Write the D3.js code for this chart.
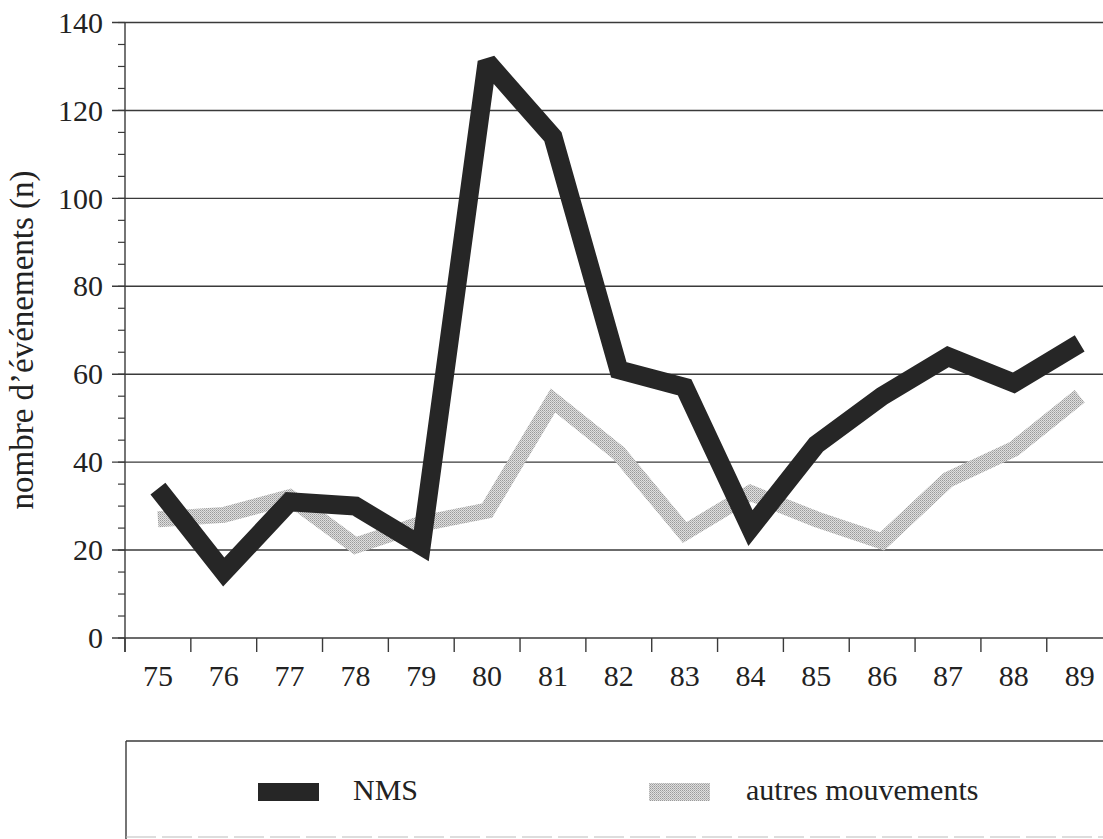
<!DOCTYPE html>
<html>
<head>
<meta charset="utf-8">
<script src="https://cdn.jsdelivr.net/npm/d3@7"></script>
<style>
  body { margin: 0; background: #fff; }
  svg { display: block; font-family: "Liberation Serif", "Times New Roman", serif; }
</style>
</head>
<body>
<div id="chart"></div>
<script>
// data
const years = ["75","76","77","78","79","80","81","82","83","84","85","86","87","88","89"];
const nms = [34, 15, 31, 30, 21, 131, 114, 61, 57, 25, 44, 55, 64, 58, 67];
const autres = [27, 28, 32, 21, 26, 29, 54, 42, 24, 33, 27, 22, 36, 43, 55];
const yTicks = [0, 20, 40, 60, 80, 100, 120, 140];
const yMinor = d3.range(0, 141, 5);
const seriesNames = ["NMS", "autres mouvements"];

const width = 1103, height = 839;
const left = 125, bandW = 65.84;

let svg = d3.select("#chart").append("svg")
    .attr("width", width).attr("height", height);

let defs = svg.append("defs");
let pat = defs.append("pattern").attr("id", "stipple")
    .attr("patternUnits", "userSpaceOnUse").attr("width", 2).attr("height", 2);
pat.append("rect").attr("width", 2).attr("height", 2).attr("fill", "#dedede");
pat.append("rect").attr("width", 1).attr("height", 1).attr("fill", "#9a9a9a");
pat.append("rect").attr("x", 1).attr("y", 1).attr("width", 1).attr("height", 1).attr("fill", "#b4b4b4");

let x = d3.scaleBand().domain(years).range([left, left + bandW * years.length]).padding(0);
let y = d3.scaleLinear().domain([0, 140]).range([638, 22.5]);
let cx = d => x(d) + x.bandwidth() / 2;

// gridlines (including the zero line)
svg.append("g").selectAll("line").data(yTicks).enter().append("line")
    .attr("x1", 112).attr("x2", width)
    .attr("y1", d => y(d)).attr("y2", d => y(d))
    .attr("stroke", "#3a3a3a").attr("stroke-width", 1.4);

// minor ticks
svg.append("g").selectAll("line").data(yMinor).enter().append("line")
    .attr("x1", 118).attr("x2", left)
    .attr("y1", d => y(d)).attr("y2", d => y(d))
    .attr("stroke", "#3a3a3a").attr("stroke-width", 1.2);

// y axis line
svg.append("line").attr("x1", left).attr("x2", left)
    .attr("y1", y(140)).attr("y2", 652)
    .attr("stroke", "#3a3a3a").attr("stroke-width", 1.4);

// y labels
svg.append("g").selectAll("text").data(yTicks).enter().append("text")
    .attr("x", 103).attr("y", d => y(d)).attr("dy", "0.34em")
    .attr("text-anchor", "end").attr("font-size", 30).attr("fill", "#222")
    .text(d => d);

// x ticks at band boundaries
svg.append("g").selectAll("line").data(years).enter().append("line")
    .attr("x1", d => x(d)).attr("x2", d => x(d))
    .attr("y1", 638).attr("y2", 652)
    .attr("stroke", "#3a3a3a").attr("stroke-width", 1.4);

// x labels
svg.append("g").selectAll("text").data(years).enter().append("text")
    .attr("x", d => cx(d)).attr("y", 686)
    .attr("text-anchor", "middle").attr("font-size", 30).attr("fill", "#222")
    .text(d => d);

// y title
svg.append("text")
    .attr("transform", "translate(33,340) rotate(-90)")
    .attr("text-anchor", "middle").attr("font-size", 33).attr("fill", "#222")
    .text("nombre d\u2019événements (n)");

let line = d3.line().x((d, i) => cx(years[i])).y(d => y(d));

svg.append("path").datum(autres)
    .attr("d", line).attr("fill", "none")
    .attr("stroke", "url(#stipple)").attr("stroke-width", 16)
    .attr("stroke-linejoin", "miter").attr("stroke-miterlimit", 2)
    .attr("stroke-linecap", "butt");

svg.append("path").datum(nms)
    .attr("d", line).attr("fill", "none")
    .attr("stroke", "#262626").attr("stroke-width", 19)
    .attr("stroke-linejoin", "miter").attr("stroke-miterlimit", 2)
    .attr("stroke-linecap", "butt");

// legend box
let lg = svg.append("g");
lg.append("line").attr("x1", 126).attr("x2", width).attr("y1", 741).attr("y2", 741)
    .attr("stroke", "#3a3a3a").attr("stroke-width", 1.4);
lg.append("line").attr("x1", 126).attr("x2", 126).attr("y1", 741).attr("y2", height)
    .attr("stroke", "#3a3a3a").attr("stroke-width", 1.4);
lg.append("line").attr("x1", 126).attr("x2", width).attr("y1", 837).attr("y2", 837)
    .attr("stroke", "#bbb").attr("stroke-width", 1.2).attr("stroke-dasharray", "30,6");

let swatchX = [258, 649], textX = [353, 746], fills = ["#262626", "url(#stipple)"];
seriesNames.forEach(function(name, i) {
    lg.append("rect").attr("x", swatchX[i]).attr("y", 783)
        .attr("width", 61).attr("height", 18).attr("fill", fills[i]);
    lg.append("text").attr("x", textX[i]).attr("y", 800)
        .attr("font-size", 30).attr("fill", "#222").text(name);
});
</script>
</body>
</html>
